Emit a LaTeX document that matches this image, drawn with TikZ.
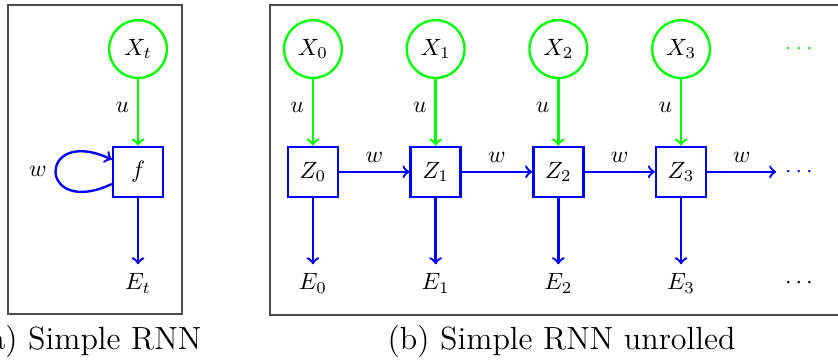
\documentclass[tikz,border=0pt]{standalone}
\usepackage{amsmath}
\usepackage{amssymb}
\usetikzlibrary{arrows,positioning}

\begin{document}
\begin{tikzpicture}[->,line width=1pt,on grid,node distance=52pt]
    \tikzstyle{input}=[circle,draw=green,minimum size=24.5pt]
    \tikzstyle{hidden}=[rectangle,draw=blue,minimum size=21.2pt]
    \tikzstyle{frame}=[-,line width=0.7pt,draw=black!70]
    \tikzstyle{caption}=[font=\fontsize{13.6}{16}\selectfont,anchor=base]
    \useasboundingbox (0pt,0pt) rectangle (355.1pt,-154.2pt);

    % simple RNN
    \node[input]  (Xt) at (58.5pt,-20.8pt) {$X_t$};
    \node[hidden] (f)  [below=of Xt]       {$f$};
    \node         (Et) [below=47.2pt of f] {$E_t$};

    \path   (Xt) edge [draw=green] node [left,pos=0.43] {$u$} (f)
            (f)  edge [draw=blue,out=205,in=155,distance=35pt] node [left] {$w$} (f)
                 edge [draw=blue] (Et);

    % unrolled RNN
    \node[input]  (X0) at (132.6pt,-20.8pt) {$X_0$};
    \node[input]  (X1) [right=of X0] {$X_1$};
    \node[input]  (X2) [right=of X1] {$X_2$};
    \node[input]  (X3) [right=of X2] {$X_3$};
    \node[text=green] (Xd) [right=50.8pt of X3] {$\cdots$};

    \node[hidden] (Z0) [below=of X0] {$Z_0$};
    \node[hidden] (Z1) [below=of X1] {$Z_1$};
    \node[hidden] (Z2) [below=of X2] {$Z_2$};
    \node[hidden] (Z3) [below=of X3] {$Z_3$};
    \node[text=blue] (Zd) [right=50.8pt of Z3] {$\cdots$};

    \node (E0) [below=47.2pt of Z0] {$E_0$};
    \node (E1) [below=47.2pt of Z1] {$E_1$};
    \node (E2) [below=47.2pt of Z2] {$E_2$};
    \node (E3) [below=47.2pt of Z3] {$E_3$};
    \node (Ed) [right=50.8pt of E3] {$\cdots$};

    \path   (X0) edge [draw=green] node [left,pos=0.43] {$u$} (Z0)
            (X1) edge [draw=green] node [left,pos=0.43] {$u$} (Z1)
            (X2) edge [draw=green] node [left,pos=0.43] {$u$} (Z2)
            (X3) edge [draw=green] node [left,pos=0.43] {$u$} (Z3)
            (Z0) edge [draw=blue] node [above] {$w$} (Z1)
                 edge [draw=blue] (E0)
            (Z1) edge [draw=blue] node [above] {$w$} (Z2)
                 edge [draw=blue] (E1)
            (Z2) edge [draw=blue] node [above] {$w$} (Z3)
                 edge [draw=blue] (E2)
            (Z3) edge [draw=blue] node [above] {$w$} (Zd)
                 edge [draw=blue] (E3);

    % frames and captions
    \draw[frame] (3.4pt,-2.1pt) rectangle (77.1pt,-133.1pt);
    \draw[frame] (114.4pt,-2.1pt) rectangle (362pt,-133.5pt);
    \node[caption] (capa) at (37.9pt,-148.3pt) {(a) Simple RNN};
    \node[caption] (capb) at (238pt,-148.3pt) {(b) Simple RNN unrolled};
\end{tikzpicture}
\end{document}
